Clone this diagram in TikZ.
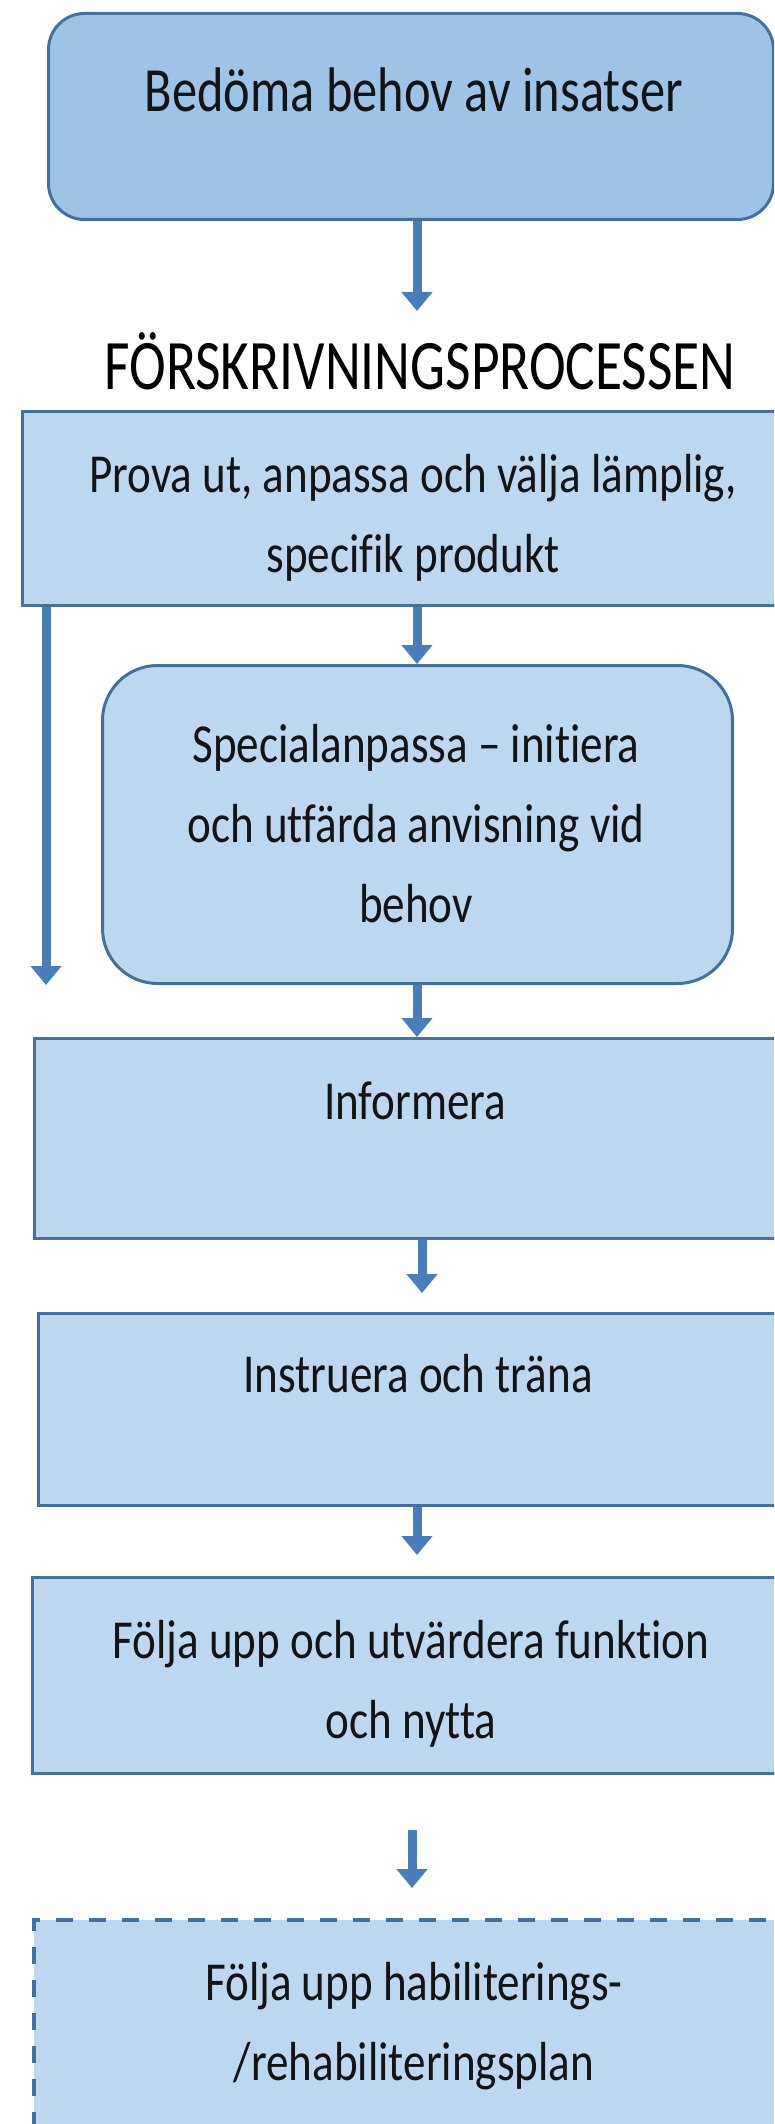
\documentclass[tikz,border=0pt]{standalone}
\usepackage{fontspec}
\setmainfont{Carlito}
\newfontfamily\cfont[FakeStretch=0.82,Ligatures=NoCommon]{Carlito}
\newfontfamily\hfont[FakeStretch=0.80,Ligatures=NoCommon]{Carlito}
\newfontfamily\tfont[FakeStretch=0.78,Ligatures=NoCommon]{Carlito}
\usetikzlibrary{arrows.meta}
\definecolor{fillA}{HTML}{9DC3E6}
\definecolor{fillB}{HTML}{BDD7EE}
\definecolor{edgec}{HTML}{41719C}
\definecolor{arrowc}{HTML}{4A7EBB}
\definecolor{textc}{HTML}{141414}
\begin{document}
\begin{tikzpicture}[x=1pt,y=-1pt,
  box/.style={draw=edgec, line width=3pt, fill=fillB, inner sep=0pt, anchor=north west},
  topbox/.style={box, fill=fillA, rounded corners=36pt},
  roundbox/.style={box, rounded corners=55pt},
  dashbox/.style={box, line width=4pt, dash pattern=on 17pt off 16pt},
  txt/.style={font=\cfont\fontsize{55}{80}\selectfont, inner sep=0pt, anchor=base, text=textc},
  arr/.style={draw=arrowc, line width=9pt, -{Triangle[width=30pt,length=19pt]}}
]
\useasboundingbox (0,0) rectangle (774,2124);
\clip (0,0) rectangle (774,2124);
\fill[white] (0,0) rectangle (774,2124);

\node[topbox, minimum width=725pt, minimum height=206pt] (b1) at (47,12) {};
\node[txt, font=\hfont\fontsize{63}{80}\selectfont] (t1) at (414,112) {Bedöma behov av insatser};
\node[txt, font=\tfont\fontsize{71}{80}\selectfont, text=black] (fp) at (420,389) {FÖRSKRIVNINGSPROCESSEN};

\node[box, minimum width=800pt, minimum height=194pt] (b2) at (21,410) {};
\node[txt] (t2) at (413,492) {\begin{tabular}[t]{@{}c@{}}Prova ut, anpassa och välja lämplig,\\specifik produkt\end{tabular}};

\node[roundbox, minimum width=630pt, minimum height=318pt] (b3) at (101,664) {};
\node[txt] (t3) at (416,762) {\begin{tabular}[t]{@{}c@{}}Specialanpassa – initiera\\och utfärda anvisning vid\\behov\end{tabular}};

\node[box, minimum width=800pt, minimum height=200pt] (b4) at (33,1037) {};
\node[txt] (t4) at (415,1119) {Informera};

\node[box, minimum width=800pt, minimum height=192pt] (b5) at (37,1312) {};
\node[txt] (t5) at (418,1392) {Instruera och träna};

\node[box, minimum width=800pt, minimum height=196pt] (b6) at (31,1576) {};
\node[txt] (t6) at (411,1658) {\begin{tabular}[t]{@{}c@{}}Följa upp och utvärdera funktion\\och nytta\end{tabular}};

\node[dashbox, minimum width=800pt, minimum height=320pt] (b7) at (32,1918) {};
\node[txt] (t7) at (414,2000) {\begin{tabular}[t]{@{}c@{}}Följa upp habiliterings-\\/rehabiliteringsplan\end{tabular}};

\coordinate (c1) at (417,311);
\coordinate (cl) at (46,985);
\coordinate (cm) at (417,0);
\coordinate (c4) at (422,0);
\coordinate (c6) at (412,0);

\draw[arr] (b1.south -| c1) -- (c1);
\draw[arr] (b2.south -| cm) -- (b3.north -| cm);
\draw[arr] (b2.south -| cl) -- (cl);
\draw[arr] (b3.south -| cm) -- (b4.north -| cm);
\draw[arr, shorten >=19pt] (b4.south -| c4) -- (b5.north -| c4);
\draw[arr, shorten >=21pt] (b5.south -| cm) -- (b6.north -| cm);
\draw[arr, shorten <=55pt, shorten >=30pt] (b6.south -| c6) -- (b7.north -| c6);
\end{tikzpicture}
\end{document}
